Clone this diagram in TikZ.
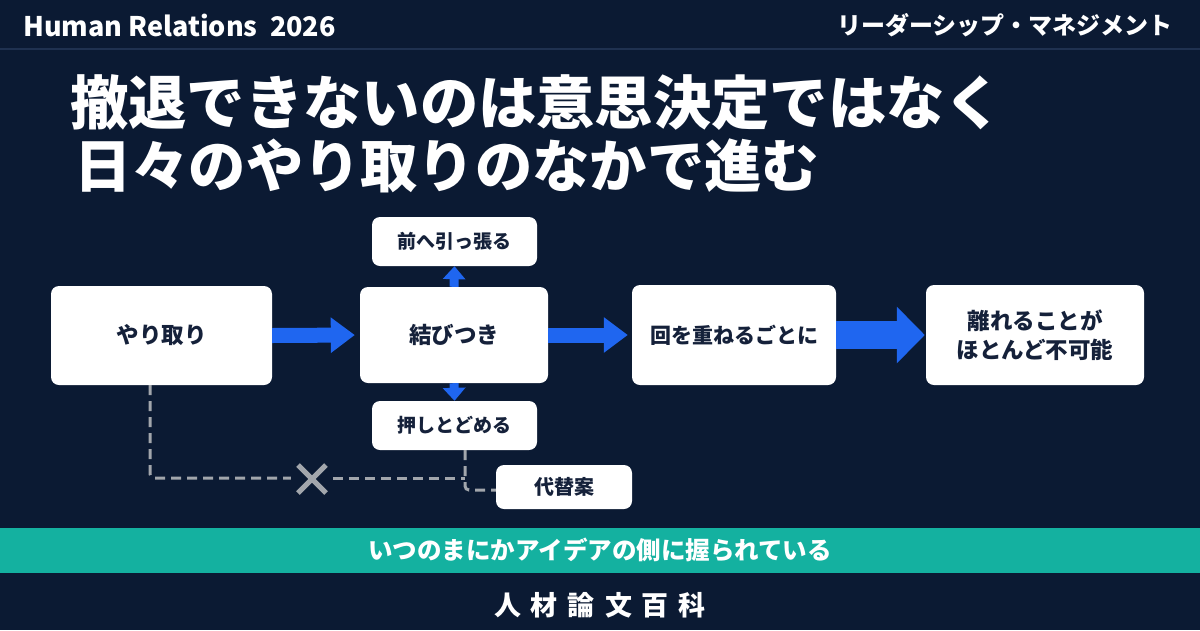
\documentclass[tikz,border=0pt]{standalone}
\usepackage{fontspec}
\setmainfont{Noto Sans CJK JP}
\usetikzlibrary{arrows.meta}
\definecolor{bg}{HTML}{0B1A33}
\definecolor{hdrline}{HTML}{1F3150}
\definecolor{flowblue}{HTML}{1F66F0}
\definecolor{bandteal}{HTML}{14B1A0}
\definecolor{boxtext}{HTML}{15213A}
\definecolor{dashgray}{HTML}{A2A6AC}
\begin{document}
\begin{tikzpicture}[x=1pt,y=-1pt,
  box/.style={fill=white, rounded corners=8pt, text=boxtext, align=center, inner sep=0pt},
  bigfont/.style={font=\bfseries\fontsize{22.5}{29}\selectfont},
  smallfont/.style={font=\bfseries\fontsize{19}{22}\selectfont},
  titlefont/.style={font=\bfseries\fontsize{58.3}{60}\selectfont},
  flow/.style={draw=flowblue},
  dashline/.style={draw=dashgray, line width=3pt, dash pattern=on 10pt off 6pt, rounded corners=4pt}
]
\useasboundingbox (0,0) rectangle (1200,630);
\fill[bg] (0,0) rectangle (1200,630);
\draw[hdrline, line width=1.5pt] (0,49) -- (1200,49);

% header
\node[anchor=west, inner sep=0pt, text=white, font=\bfseries\fontsize{27}{30}\selectfont] (hl) at (23,25) {Human Relations\ \ 2026};
\node[anchor=east, inner sep=0pt, text=white, font=\bfseries\fontsize{24}{26}\selectfont] (hr) at (1173,25) {リーダーシップ・マネジメント};

% title
\node[anchor=west, inner sep=0pt, text=white, titlefont] (t1) at (70,103) {撤退できないのは意思決定ではなく};
\node[anchor=west, inner sep=0pt, text=white, font=\bfseries\fontsize{57.3}{60}\selectfont] (t2) at (74,166) {日々のやり取りのなかで進む};

% boxes
\node[box, bigfont, minimum width=221pt, minimum height=99pt] (yari) at (161.5,335.5) {やり取り};
\node[box, bigfont, minimum width=188pt, minimum height=96pt] (musubi) at (454,335) {結びつき};
\node[box, smallfont, minimum width=165pt, minimum height=49pt] (mae) at (454.5,241.5) {前へ引っ張る};
\node[box, smallfont, minimum width=165pt, minimum height=49pt] (osu) at (454.5,425.5) {押しとどめる};
\node[box, font=\bfseries\fontsize{21}{26}\selectfont, minimum width=204pt, minimum height=100pt] (kai) at (734,335) {回を重ねるごとに};
\node[box, bigfont, minimum width=218pt, minimum height=100pt] (hana) at (1035,335) {離れることが\\ほとんど不可能};
\node[box, font=\bfseries\fontsize{20}{24}\selectfont, minimum width=136pt, minimum height=44pt] (dai) at (564,487) {代替案};

% blue arrows
\draw[flow, line width=15pt, -{Triangle[width=34pt,length=24pt]}, shorten >=5pt] (yari.east) -- (musubi.west);
\draw[flow, line width=15pt, -{Triangle[width=34pt,length=24pt]}, shorten >=4pt] (musubi.east) -- (kai.west);
\draw[flow, line width=28pt, -{Triangle[width=55pt,length=28pt]}, shorten >=1pt] (kai.east) -- (hana.west);
\draw[flow, line width=9pt, -{Triangle[width=22pt,length=13pt]}] (musubi.north) -- (mae.south);
\draw[flow, line width=9pt, -{Triangle[width=22pt,length=13pt]}] (musubi.south) -- (osu.south |- osu.north);

% dashed connectors
\coordinate (c1) at (150,478);
\coordinate (c2) at (465,478);
\coordinate (c3) at (465,490);
\node[minimum width=42pt, minimum height=30pt, inner sep=0pt] (xm) at (312,479) {};
\draw[dashline] (yari.south -| c1) -- (c1) -- (xm.west |- c1);
\draw[dashline] (xm.east |- c2) -- (c2);
\draw[dashline] (osu.south -| c2) -- (c3) -- (dai.west |- c3);
\draw[dashgray, line width=5pt] ([shift={(-14,-14)}]xm.center) -- ([shift={(14,14)}]xm.center);
\draw[dashgray, line width=5pt] ([shift={(-14,14)}]xm.center) -- ([shift={(14,-14)}]xm.center);

% bottom band
\fill[bandteal] (0,528) rectangle (1200,573);
\node[inner sep=0pt, text=white, font=\bfseries\fontsize{24.5}{26}\selectfont] (band) at (600,550) {いつのまにかアイデアの側に握られている};
\node[inner sep=0pt, text=white, font=\bfseries\fontsize{27}{30}\selectfont] (foot) at (600,605) {人\hspace{10pt}材\hspace{10pt}論\hspace{10pt}文\hspace{10pt}百\hspace{10pt}科};
\end{tikzpicture}
\end{document}
